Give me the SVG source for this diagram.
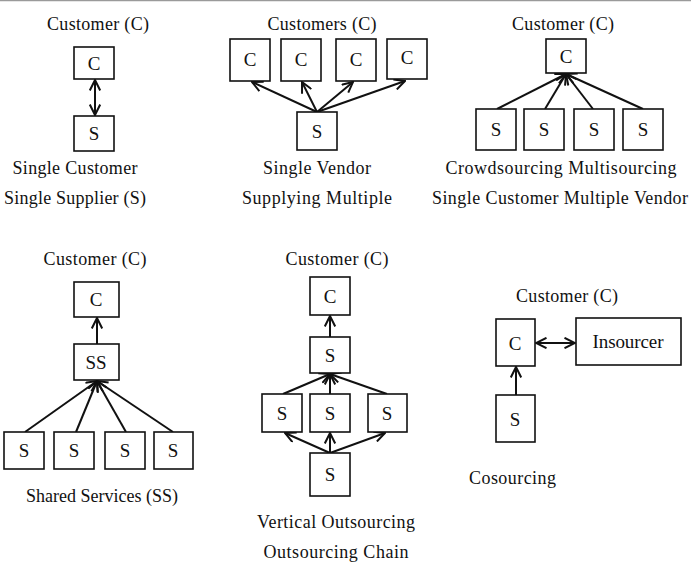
<svg xmlns="http://www.w3.org/2000/svg" width="691" height="569" viewBox="0 0 691 569">
<style>
text{font-family:"Liberation Serif","Times New Roman",serif;font-size:18px;fill:#111;}
.m{text-anchor:middle;}
rect{fill:#fff;stroke:#111;stroke-width:1.6;}
rect+text{font-size:19px;}
.c line{stroke:#111;stroke-width:2;marker-end:url(#a);}
.c line.d{marker-start:url(#a);}
</style>
<defs>
<marker id="a" viewBox="0 0 12 12" refX="11" refY="6" markerWidth="12" markerHeight="12" markerUnits="userSpaceOnUse" orient="auto-start-reverse">
<path d="M0.5,0.8 L11,6 L0.5,11.2" fill="none" stroke="#111" stroke-width="2"/>
</marker>
</defs>
<rect x="0" y="0" width="691" height="569" style="fill:#fff;stroke:none"/>
<line x1="0" y1="0.5" x2="691" y2="0.5" stroke="#9a9a9a" stroke-width="1.5"/>

<g id="labels">
<text class="m" x="98" y="30" textLength="102">Customer (C)</text>
<text class="m" x="75" y="174" textLength="125">Single Customer</text>
<text class="m" x="75" y="204" textLength="142">Single Supplier (S)</text>
<text class="m" x="322" y="30" textLength="109">Customers (C)</text>
<text class="m" x="317" y="174" textLength="108">Single Vendor</text>
<text class="m" x="317" y="204" textLength="150">Supplying Multiple</text>
<text class="m" x="563" y="30" textLength="102">Customer (C)</text>
<text class="m" x="561" y="174" textLength="231">Crowdsourcing Multisourcing</text>
<text class="m" x="560" y="204" textLength="256">Single Customer Multiple Vendor</text>
<text class="m" x="95" y="265" textLength="103">Customer (C)</text>
<text class="m" x="102" y="502" textLength="152">Shared Services (SS)</text>
<text class="m" x="337" y="265" textLength="103">Customer (C)</text>
<text class="m" x="336" y="528" textLength="158">Vertical Outsourcing</text>
<text class="m" x="336" y="558" textLength="145">Outsourcing Chain</text>
<text class="m" x="567" y="302" textLength="102">Customer (C)</text>
<text x="469" y="484" textLength="87">Cosourcing</text>
</g>

<g class="c" id="connectors">
<line class="d" x1="95" y1="80" x2="95" y2="115"/>
<line x1="317" y1="112" x2="252" y2="82"/>
<line x1="317" y1="112" x2="302" y2="82"/>
<line x1="317" y1="112" x2="353" y2="82"/>
<line x1="317" y1="112" x2="405" y2="81"/>
<line x1="497" y1="109" x2="566" y2="74"/>
<line x1="545" y1="109" x2="566" y2="74"/>
<line x1="593" y1="109" x2="566" y2="74"/>
<line x1="643" y1="109" x2="566" y2="74"/>
<line x1="97" y1="344" x2="97" y2="318"/>
<line x1="25" y1="432" x2="97" y2="381"/>
<line x1="76" y1="432" x2="97" y2="381"/>
<line x1="126" y1="432" x2="97" y2="381"/>
<line x1="173" y1="432" x2="97" y2="381"/>
<line x1="330" y1="337" x2="330" y2="316"/>
<line x1="283" y1="394" x2="330" y2="374"/>
<line x1="330" y1="394" x2="330" y2="374"/>
<line x1="387" y1="394" x2="330" y2="374"/>
<line x1="330" y1="453" x2="285" y2="433"/>
<line x1="330" y1="453" x2="330" y2="433"/>
<line x1="330" y1="453" x2="385" y2="433"/>
<line class="d" x1="536" y1="343" x2="575" y2="343"/>
<line x1="516" y1="395" x2="516" y2="367"/>
</g>

<g id="n1c"><rect x="74" y="47" width="40" height="32"/><text class="m" x="94" y="70">C</text></g>
<g id="n1s"><rect x="74" y="116" width="40" height="35"/><text class="m" x="94" y="140">S</text></g>

<g id="n2c1"><rect x="230" y="39" width="40" height="42"/><text class="m" x="250" y="66">C</text></g>
<g id="n2c2"><rect x="281" y="39" width="40" height="42"/><text class="m" x="301" y="66">C</text></g>
<g id="n2c3"><rect x="336" y="39" width="40" height="42"/><text class="m" x="356" y="66">C</text></g>
<g id="n2c4"><rect x="387" y="39" width="40" height="40"/><text class="m" x="407" y="64">C</text></g>
<g id="n2s"><rect x="297" y="112" width="40" height="38"/><text class="m" x="317" y="138">S</text></g>

<g id="n3c"><rect x="546" y="39" width="40" height="34"/><text class="m" x="566" y="63">C</text></g>
<g id="n3s1"><rect x="476" y="109" width="40" height="41"/><text class="m" x="496" y="136">S</text></g>
<g id="n3s2"><rect x="524" y="109" width="40" height="41"/><text class="m" x="544" y="136">S</text></g>
<g id="n3s3"><rect x="574" y="109" width="40" height="41"/><text class="m" x="594" y="136">S</text></g>
<g id="n3s4"><rect x="623" y="109" width="40" height="41"/><text class="m" x="643" y="136">S</text></g>

<g id="n4c"><rect x="74" y="282" width="45" height="35"/><text class="m" x="96" y="306">C</text></g>
<g id="n4ss"><rect x="74" y="344" width="45" height="36"/><text class="m" x="96" y="369">SS</text></g>
<g id="n4s1"><rect x="4" y="432" width="40" height="37"/><text class="m" x="24" y="457">S</text></g>
<g id="n4s2"><rect x="54" y="432" width="40" height="37"/><text class="m" x="74" y="457">S</text></g>
<g id="n4s3"><rect x="105" y="432" width="40" height="37"/><text class="m" x="125" y="457">S</text></g>
<g id="n4s4"><rect x="154" y="432" width="39" height="37"/><text class="m" x="173" y="457">S</text></g>

<g id="n5c"><rect x="310" y="277" width="40" height="38"/><text class="m" x="330" y="303">C</text></g>
<g id="n5s1"><rect x="310" y="337" width="40" height="36"/><text class="m" x="330" y="362">S</text></g>
<g id="n5s2"><rect x="262" y="394" width="40" height="38"/><text class="m" x="282" y="420">S</text></g>
<g id="n5s3"><rect x="310" y="394" width="40" height="38"/><text class="m" x="330" y="420">S</text></g>
<g id="n5s4"><rect x="368" y="394" width="39" height="38"/><text class="m" x="387" y="420">S</text></g>
<g id="n5s5"><rect x="310" y="453" width="40" height="43"/><text class="m" x="330" y="481">S</text></g>

<g id="n6c"><rect x="496" y="319" width="39" height="47"/><text class="m" x="515" y="350">C</text></g>
<g id="n6i"><rect x="576" y="318" width="105" height="47"/><text class="m" x="628" y="348" textLength="71">Insourcer</text></g>
<g id="n6s"><rect x="496" y="395" width="39" height="47"/><text class="m" x="515" y="426">S</text></g>
</svg>
